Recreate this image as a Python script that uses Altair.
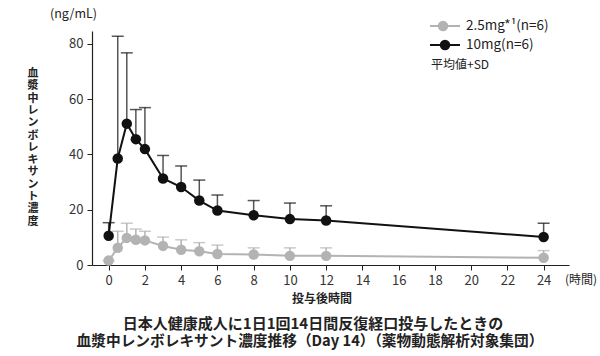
import altair as alt
import pandas as pd

times = [0, 0.5, 1, 1.5, 2, 3, 4, 5, 6, 8, 10, 12, 24]
mean_10 = [10.6, 38.5, 51.1, 45.5, 41.9, 31.3, 28.2, 23.3, 19.7, 18.0, 16.6, 16.1, 10.1]
upper_10 = [15.3, 82.7, 76.7, 56.2, 56.9, 39.6, 35.8, 30.7, 25.3, 23.3, 22.4, 21.4, 15.1]
mean_25 = [1.6, 6.2, 9.8, 9.1, 8.9, 6.9, 5.5, 5.0, 4.0, 3.8, 3.3, 3.3, 2.6]
upper_25 = [1.6, 12.2, 15.1, 13.0, 12.2, 10.1, 9.1, 8.1, 7.2, 6.2, 6.2, 6.2, 5.2]
x_ticks = list(range(0, 26, 2))
y_ticks = [0, 20, 40, 60, 80]

FONT = "Noto Sans CJK JP"
BLACK = "#111111"
GRAY = "#b3b3b3"

rows = []
for t, m, u in zip(times, mean_25, upper_25):
    rows.append({"t": t, "mean": m, "upper": u, "grp": "2.5mg"})
for t, m, u in zip(times, mean_10, upper_10):
    rows.append({"t": t, "mean": m, "upper": u, "grp": "10mg"})
df = pd.DataFrame(rows)

xs = alt.Scale(domain=[-0.92, 25.4], nice=False, zero=False)
ys = alt.Scale(domain=[0, 84.6], nice=False)

xaxis = alt.Axis(values=x_ticks, title=None, grid=False,
                 domainColor="#222", tickColor="#222", labelColor="#333", labelFontSize=13,
                 labelFont=FONT, tickSize=5, labelPadding=4, labelOverlap=False)
yaxis = alt.Axis(values=y_ticks, title=None, grid=False,
                 domainColor="#222", tickColor="#222", labelColor="#333", labelFontSize=13,
                 labelFont=FONT, tickSize=5, labelPadding=4, labelOverlap=False)


def X():
    return alt.X("t:Q", scale=xs, axis=xaxis)


def Y(field):
    return alt.Y(field + ":Q", scale=ys, axis=yaxis)


def series(name, color, stem_color, cap_color):
    d = df[df.grp == name]
    base = alt.Chart(d)
    stem = base.mark_rule(color=stem_color, strokeWidth=1.5).encode(
        x=X(), y=Y("mean"), y2="upper:Q")
    cap = base.mark_tick(color=cap_color, orient="horizontal",
                         size=12, thickness=1.5).encode(x=X(), y=Y("upper"))
    line = base.mark_line(color=color, strokeWidth=2).encode(x=X(), y=Y("mean"))
    pts = base.mark_circle(color=color, opacity=1, size=110).encode(x=X(), y=Y("mean"))
    return [stem, cap, line, pts]


layers = series("2.5mg", GRAY, GRAY, GRAY) + series("10mg", BLACK, "#555555", BLACK)

# legend and annotations
leg = pd.DataFrame({"dummy": [0]})
lb = alt.Chart(leg)


def txt(s, x, y, size=13, weight="normal", align="left", color="#222"):
    return lb.mark_text(text=s, font=FONT, fontSize=size, fontWeight=weight, align=align,
                        baseline="middle", color=color).encode(x=alt.value(x), y=alt.value(y))


legend = [
    lb.mark_rule(color=GRAY, strokeWidth=2).encode(x=alt.value(338), x2=alt.value(368), y=alt.value(-5)),
    lb.mark_circle(color=GRAY, opacity=1, size=110).encode(x=alt.value(351), y=alt.value(-5)),
    lb.mark_rule(color=BLACK, strokeWidth=2).encode(x=alt.value(338), x2=alt.value(368), y=alt.value(14)),
    lb.mark_circle(color=BLACK, opacity=1, size=110).encode(x=alt.value(353), y=alt.value(14)),
    txt("2.5mg*¹(n=6)", 374, -5, size=13.5),
    txt("10mg(n=6)", 374, 14, size=13.5),
    txt("平均値+SD", 339, 34, size=12),
    txt("(ng/mL)", -42, -17, size=12.5),
    txt("(時間)", 489, 249, size=12, align="center"),
    txt("投与後時間", 230, 268, size=12, weight="bold", align="center"),
    txt("日本人健康成人に1日1回14日間反復経口投与したときの", 221, 293, size=15, weight="bold", align="center"),
    txt("血漿中レンボレキサント濃度推移（Day 14）（薬物動態解析対象集団）", 218, 311, size=14.7, weight="bold", align="center"),
    lb.mark_text(text="\n".join(list("血漿中レンボレキサント濃度")), lineBreak="\n", lineHeight=12.3,
                 font=FONT, fontSize=11, fontWeight="bold", align="center", baseline="top",
                 color="#222").encode(x=alt.value(-59), y=alt.value(37)),
]

chart = alt.layer(*layers, *legend).properties(
    width=477, height=234,
    padding={"left": 92, "top": 31, "right": 31, "bottom": 91},
    autosize=alt.AutoSizeParams(type="none"),
).configure_view(stroke=None).configure_axisY(
    domainWidth=1.2).configure_axisX(domainWidth=1.2)

chart.save("out.html", embed_options={"renderer": "svg", "actions": False})
